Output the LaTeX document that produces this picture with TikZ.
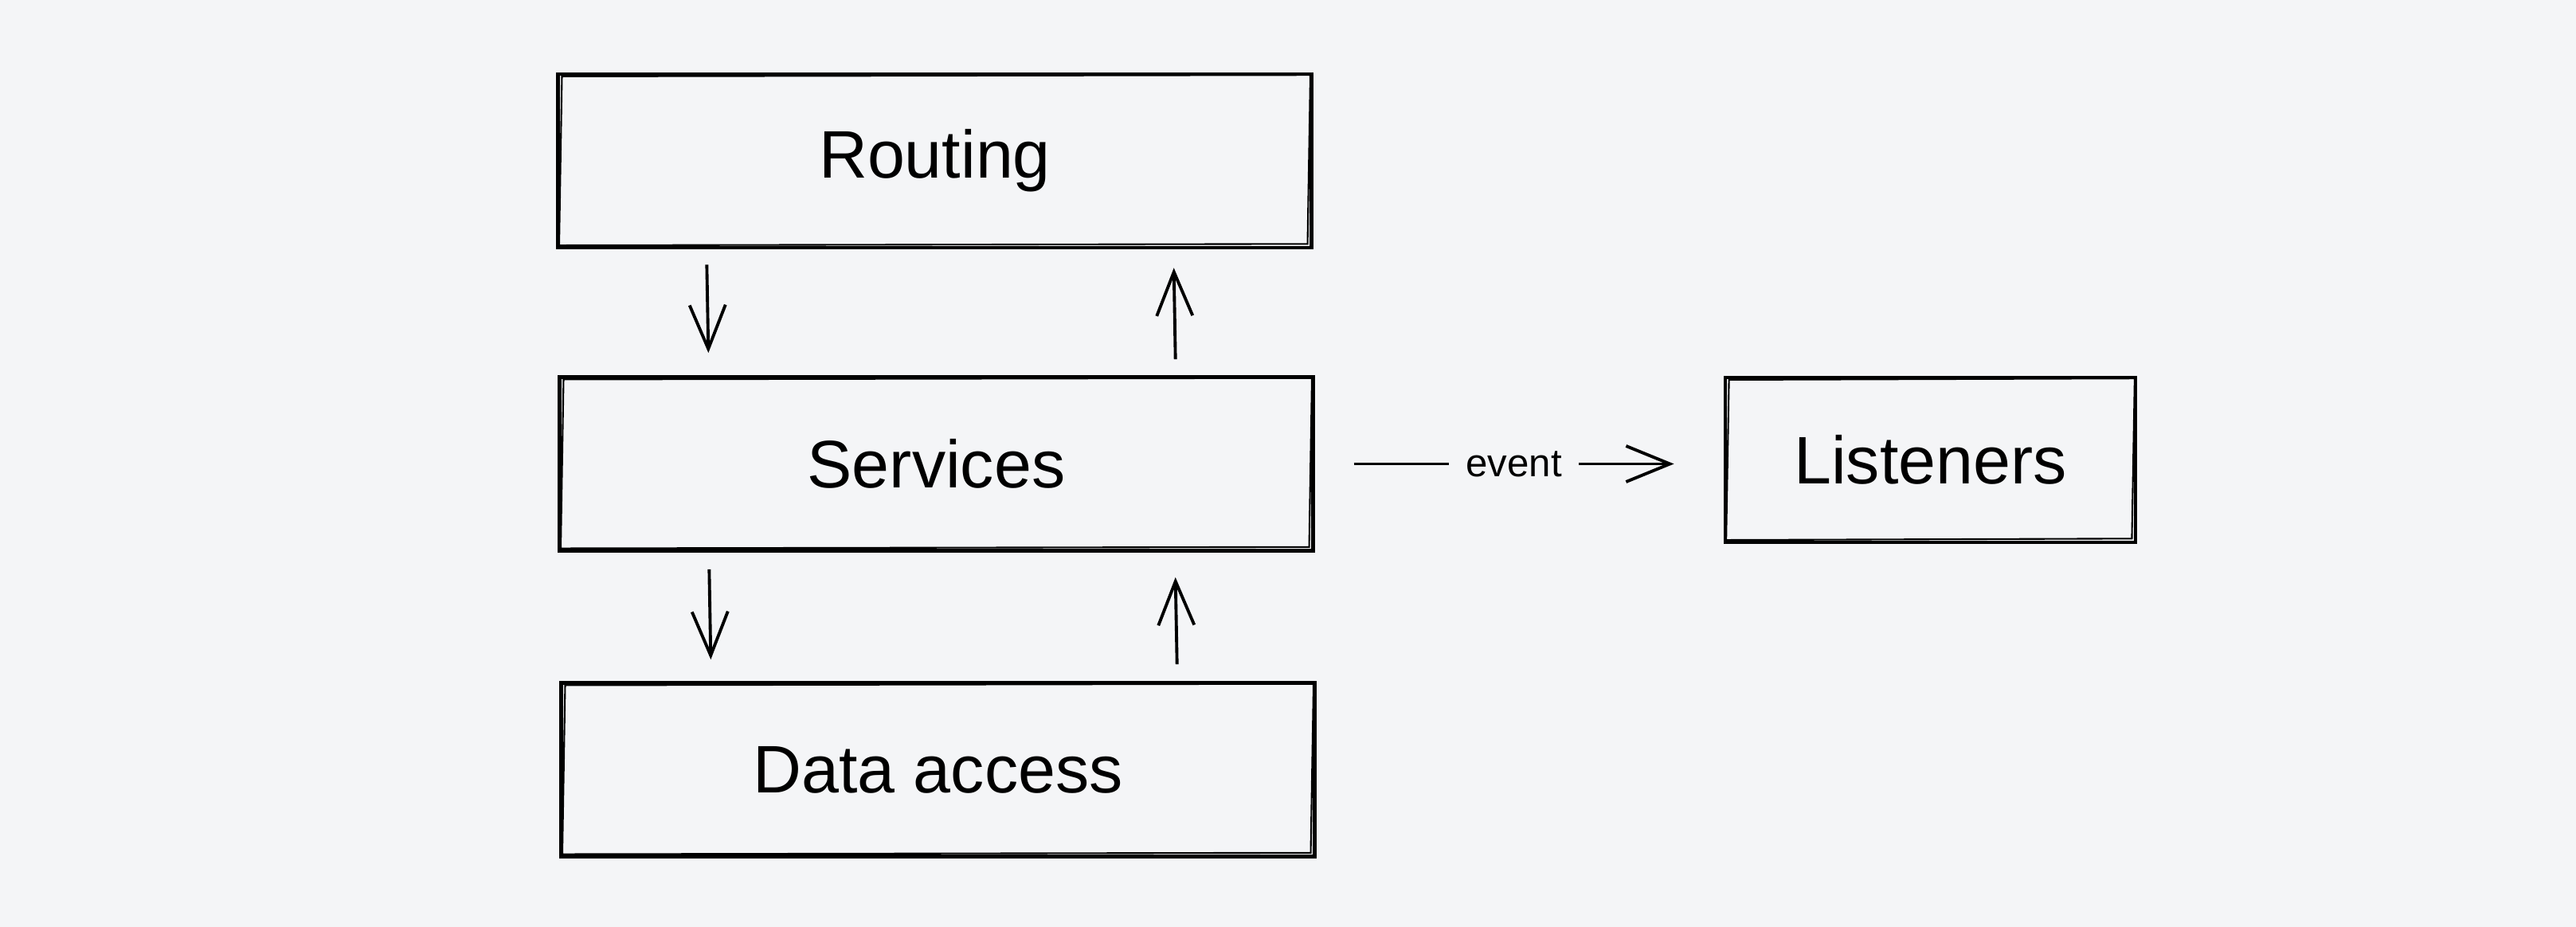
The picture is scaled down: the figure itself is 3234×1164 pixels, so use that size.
\documentclass[tikz,border=0pt]{standalone}
\usepackage{fontspec}
\setmainfont{Liberation Sans}
\usetikzlibrary{arrows.meta, calc}

\definecolor{bg}{HTML}{F4F5F7}

\tikzset{
    layer/.style={draw, line width=1.3pt, minimum width=9.45cm, minimum height=2.18cm, font=\fontsize{24}{28}\selectfont},
    flow/.style={->, line width=1.1pt},
    >={Straight Barb[length=5.5mm, width=4.5mm]}
}

\begin{document}
\begin{tikzpicture}[x=0.01cm, y=-0.01cm]
        % Achtergrond
        \fill[bg] (0,0) rectangle (3234,1164);
        \useasboundingbox (0,0) rectangle (3234,1164);

        % Lagen
        \node[layer] (routing) at (1173.5,202) {Routing};
        \node[layer] (services) at (1175.5,582.5) {Services};
        \node[layer] (data) at (1177.5,966.5) {Data access};
        \node[layer, minimum width=5.15cm, minimum height=2.07cm] (listeners) at (2423.5,577.5) {Listeners};

        % Tweede streek (schets-effect)
        \foreach \n in {routing, services, data, listeners} {
            \draw[line width=0.6pt] ([shift={(2pt,-1.5pt)}]\n.north west) -- ([shift={(-1pt,-1pt)}]\n.north east)
                -- ([shift={(-2pt,2pt)}]\n.south east) -- ([shift={(1pt,1.5pt)}]\n.south west) -- cycle;
        }

        % Pijlen tussen de lagen
        \draw[flow] ([xshift=-2.86cm, yshift=-0.19cm]routing.south) -- ([xshift=-2.86cm, yshift=0.28cm]services.north);
        \draw[flow] ([xshift=3.0cm, yshift=0.2cm]services.north) -- ([xshift=3.0cm, yshift=-0.23cm]routing.south);
        \draw[flow] ([xshift=-2.85cm, yshift=-0.21cm]services.south) -- ([xshift=-2.85cm, yshift=0.27cm]data.north);
        \draw[flow] ([xshift=3.0cm, yshift=0.21cm]data.north) -- ([xshift=3.0cm, yshift=-0.31cm]services.south);

        % Event naar listeners
        \draw[flow] ([xshift=0.49cm]services.east) -- ([xshift=-0.62cm]services.east -| listeners.west)
            node[midway, fill=bg, inner xsep=6pt, font=\fontsize{14}{16}\selectfont] (event) {event};
\end{tikzpicture}
\end{document}
